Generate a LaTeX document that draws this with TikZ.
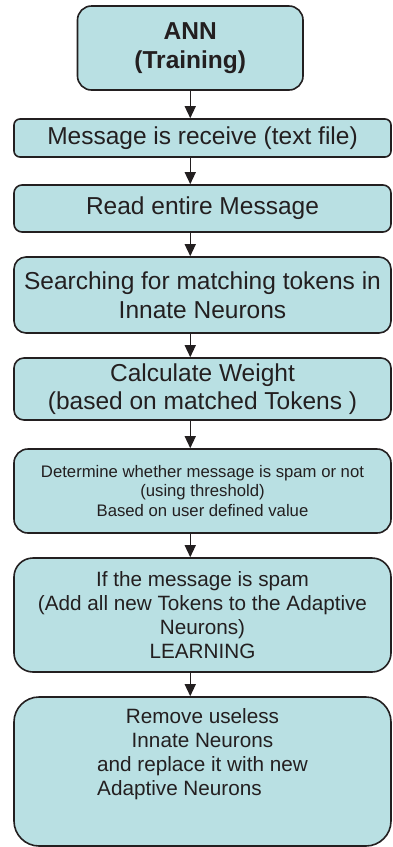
\documentclass[tikz,border=0pt]{standalone}
\usepackage{fontspec}
\setmainfont{Liberation Sans}
\usetikzlibrary{arrows.meta}
\definecolor{boxfill}{RGB}{185,224,227}
\definecolor{boxline}{RGB}{35,31,32}
\tikzset{
  stepbox/.style={draw=boxline, fill=boxfill, line width=1.6pt,
    minimum width=377pt, align=center, inner sep=0pt, text=boxline},
  bigtext/.style={font={\fontsize{24.5}{28.5}\selectfont}},
  midtext/.style={font={\fontsize{20.7}{23.9}\selectfont}},
  smalltext/.style={font={\fontsize{16.7}{19.2}\selectfont}},
  flow/.style={draw=boxline, line width=1.3pt,
    -{Triangle[width=11pt,length=12pt]}},
}
\begin{document}
\begin{tikzpicture}[x=1pt,y=1pt]
\useasboundingbox (0,0) rectangle (392,-847);

\node[stepbox, bigtext, minimum width=225.5pt, minimum height=84pt,
      rounded corners=14pt, font={\fontsize{24.5}{29}\selectfont\bfseries}]
  (b1) at (190.25,-48) {ANN\\(Training)};
\node[stepbox, bigtext, minimum height=38pt, rounded corners=6pt]
  (b2) at (202.5,-138) {Message is receive (text file)};
\node[stepbox, bigtext, minimum height=47pt, rounded corners=8pt]
  (b3) at (202.5,-208.5) {Read entire Message};
\node[stepbox, bigtext, minimum height=76pt, rounded corners=12pt]
  (b4) at (202.5,-295) {Searching for matching tokens in\\Innate Neurons};
\node[stepbox, bigtext, minimum height=62pt, rounded corners=10pt]
  (b5) at (202.5,-389) {Calculate Weight\\(based on matched Tokens )};
\node[stepbox, smalltext, minimum height=84pt, rounded corners=14pt]
  (b6) at (202.5,-491) {Determine whether message is spam or not\\(using threshold)\\Based on user defined value};
\node[stepbox, midtext, minimum height=114pt, rounded corners=19pt]
  (b7) at (202.5,-615) {If the message is spam\\(Add all new Tokens to the Adaptive\\Neurons)\\LEARNING};
\node[stepbox, minimum height=149pt, rounded corners=25pt]
  (b8) at (202.5,-771.5) {};
\node[midtext, align=center, text=boxline, inner sep=0pt, anchor=north]
  (b8text) at ([yshift=-12pt]b8.north)
  {Remove useless\\Innate Neurons\\and replace it with new\\
   \rlap{Adaptive Neurons}\phantom{and replace it with new}};

% connectors, all on the axis of the top box
\draw[flow] (b1.south) -- (b1.south |- b2.north);
\draw[flow] (b1.south |- b2.south) -- (b1.south |- b3.north);
\draw[flow] (b1.south |- b3.south) -- (b1.south |- b4.north);
\draw[flow] (b1.south |- b4.south) -- (b1.south |- b5.north);
\draw[flow] (b1.south |- b5.south) -- (b1.south |- b6.north);
\draw[flow] (b1.south |- b6.south) -- (b1.south |- b7.north);
\draw[flow] (b1.south |- b7.south) -- (b1.south |- b8.north);
\end{tikzpicture}
\end{document}
